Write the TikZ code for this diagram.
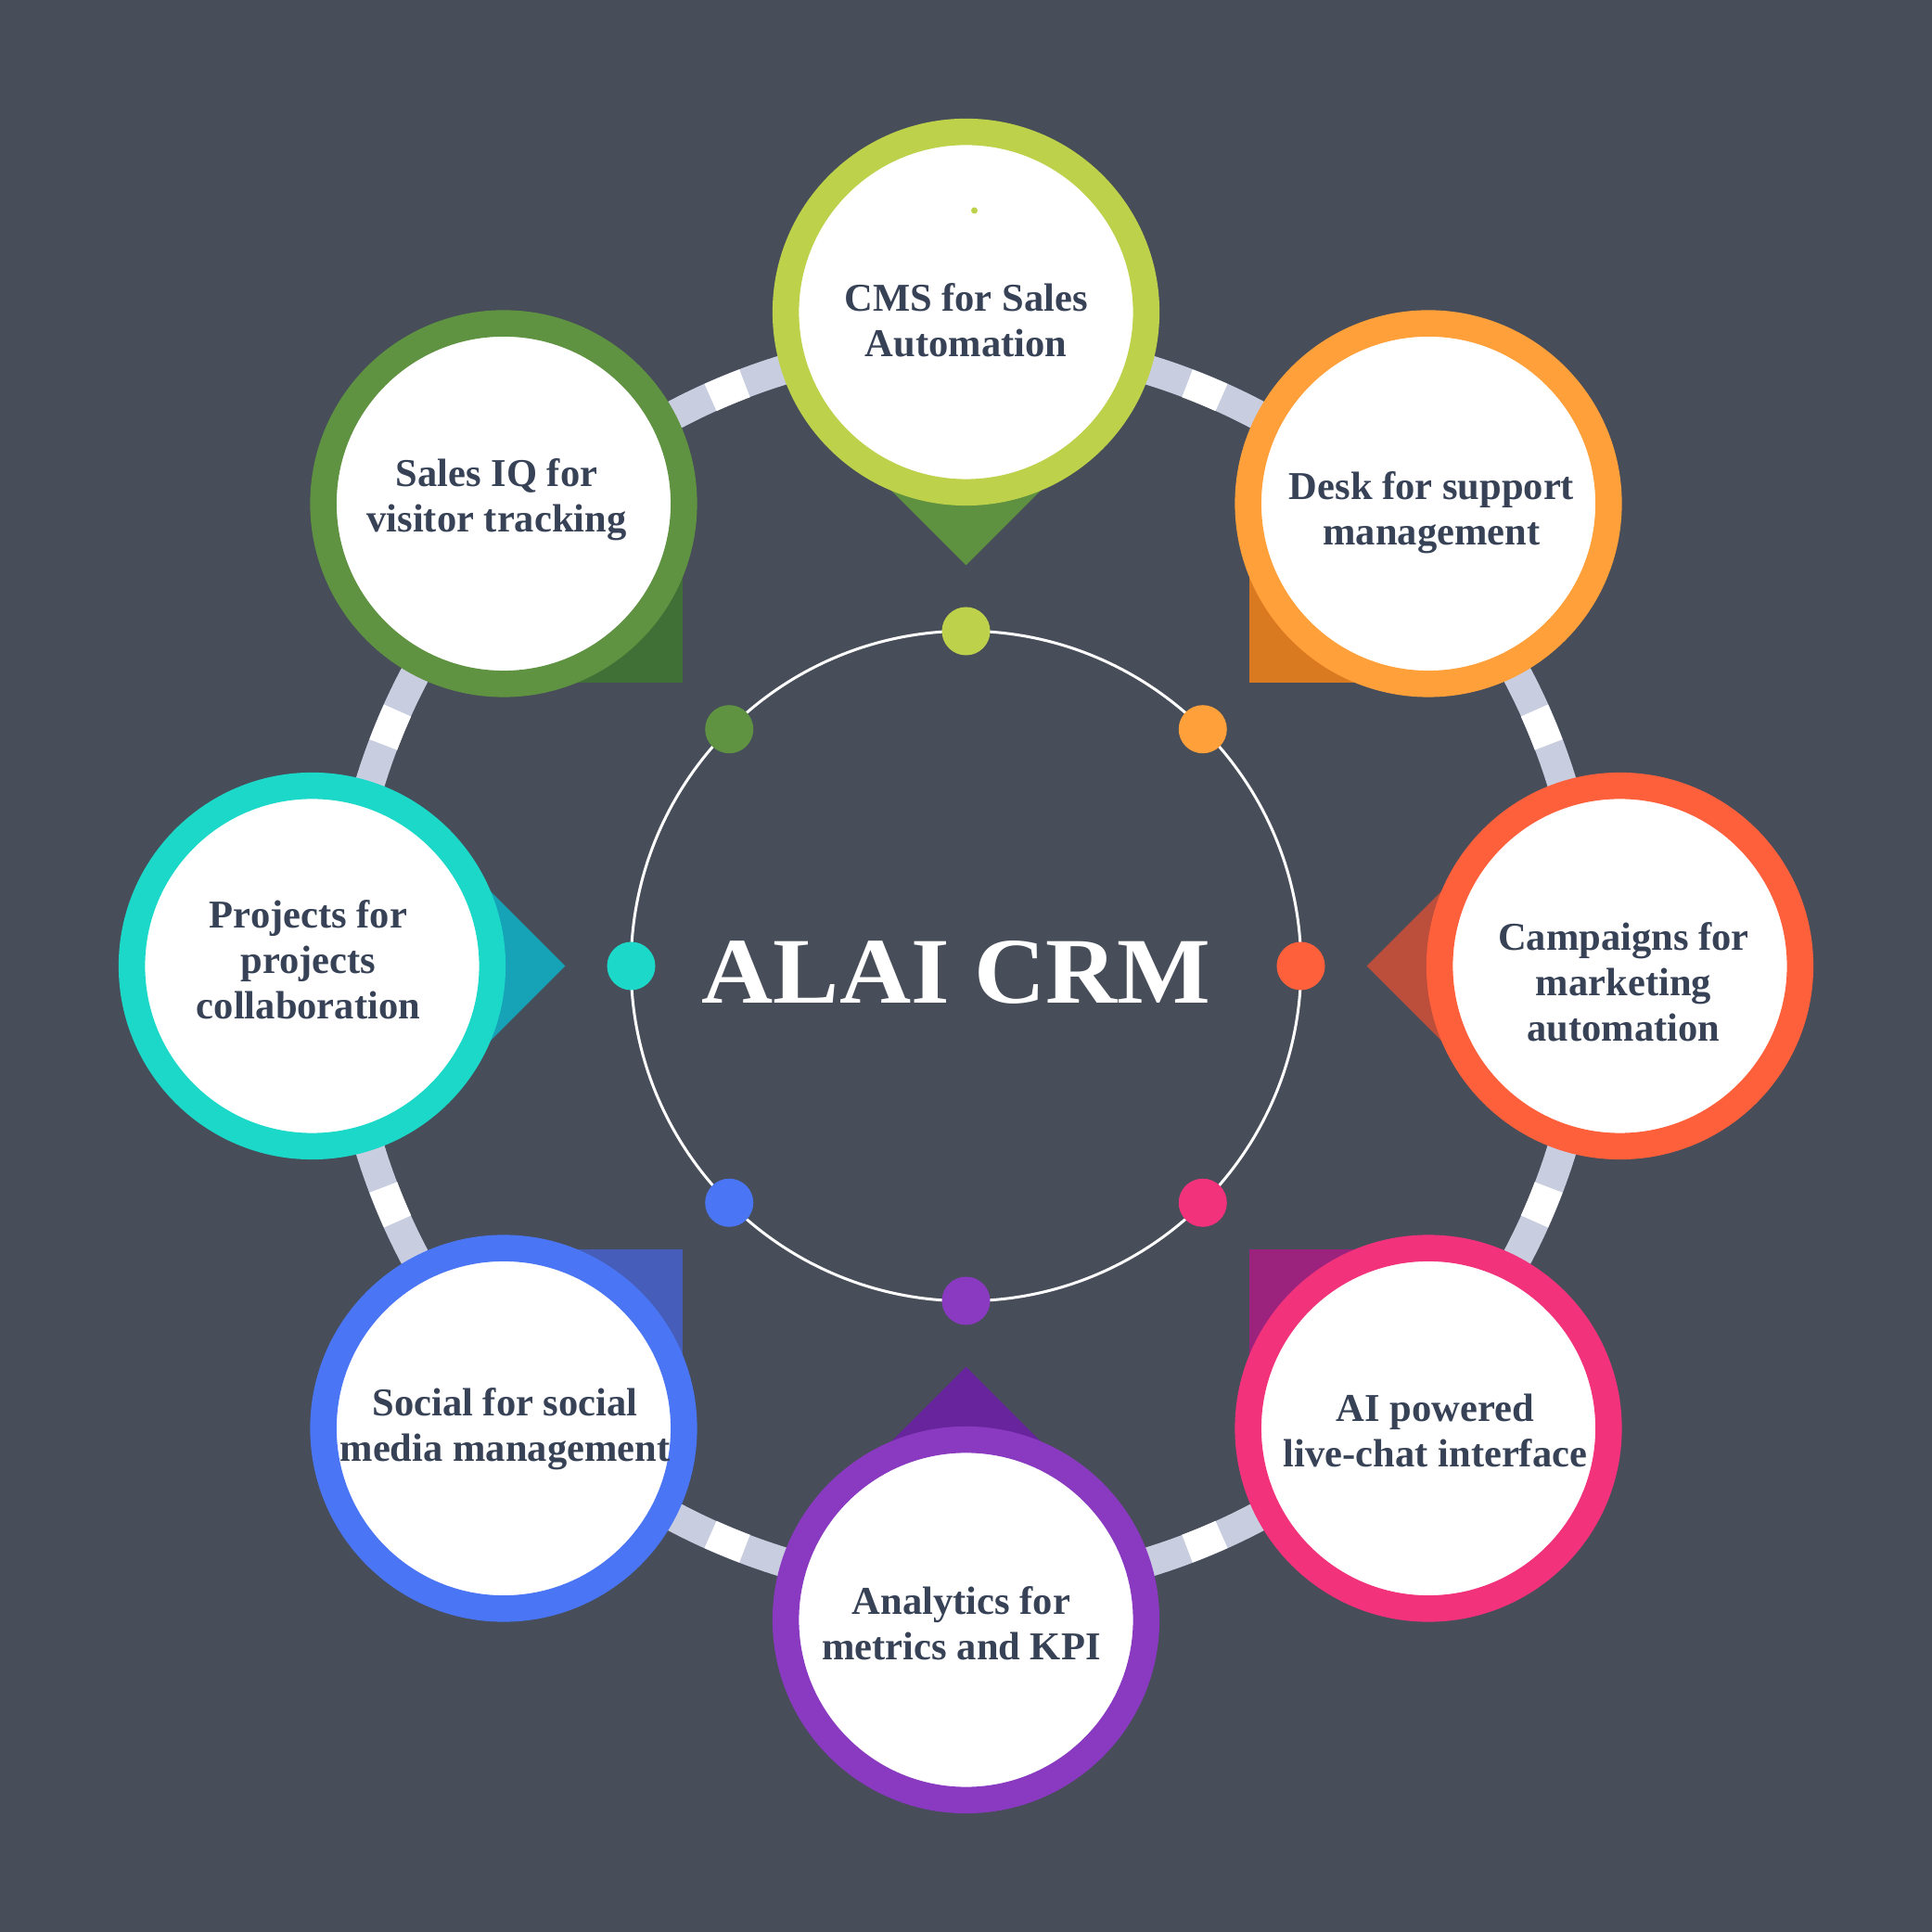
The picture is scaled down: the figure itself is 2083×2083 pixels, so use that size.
\documentclass[tikz,border=0pt]{standalone}
\usepackage{fontspec}
\setmainfont{Liberation Serif}
\usetikzlibrary{calc}
\definecolor{bg}{RGB}{71,77,89}
\definecolor{ringc}{RGB}{201,205,224}
\definecolor{txt}{RGB}{55,66,87}
\definecolor{cmsC}{RGB}{189,209,75}  \definecolor{cmsP}{RGB}{94,145,64}
\definecolor{iqC}{RGB}{95,147,65}    \definecolor{iqP}{RGB}{64,112,54}
\definecolor{deskC}{RGB}{255,160,58} \definecolor{deskP}{RGB}{217,122,32}
\definecolor{campC}{RGB}{255,96,60}  \definecolor{campP}{RGB}{188,78,60}
\definecolor{aiC}{RGB}{242,50,122}   \definecolor{aiP}{RGB}{155,35,125}
\definecolor{anC}{RGB}{138,58,192}   \definecolor{anP}{RGB}{104,36,156}
\definecolor{socC}{RGB}{74,118,245}  \definecolor{socP}{RGB}{70,93,185}
\definecolor{prC}{RGB}{27,216,200}   \definecolor{prP}{RGB}{22,163,184}
\begin{document}
\begin{tikzpicture}[x=0.01cm,y=0.01cm,
  bubble/.style={circle, draw=#1, line width=0.285cm, fill=white, minimum size=3.885cm, inner sep=0pt},
  lbl/.style={text=txt, font=\bfseries\fontsize{12.1}{13.9}\selectfont, align=center, inner sep=0pt},
  dotc/.style={circle, fill=#1, minimum size=0.52cm, inner sep=0pt}]
\fill[bg] (-1041.5,-1041.5) rectangle (1041.5,1041.5);
\useasboundingbox (-1041.5,-1041.5) rectangle (1041.5,1041.5);
% dashed ring
\draw[ringc, line width=0.32cm] (0,0) circle[radius=672];
\foreach \k in {0,...,47}
  \draw[white, line width=0.32cm] ({22.5+7.5*\k-1.7}:672) arc[start angle={22.5+7.5*\k-1.7}, delta angle=3.4, radius=672];
% inner hub circle
\node[circle, draw=white, line width=0.03cm, minimum size=7.22cm, inner sep=0pt] (hub) at (0,0) {};
\node[text=white, inner sep=0pt] (title) at (-10.5,-7) {\resizebox{5.48cm}{0.67cm}{\bfseries ALAI CRM}};
% dots on hub
\node[dotc=cmsC]  (d-cms)  at (90:361) {};
\node[dotc=deskC] (d-desk) at (45:361) {};
\node[dotc=campC] (d-camp) at (0:361) {};
\node[dotc=aiC]   (d-ai)   at (-45:361) {};
\node[dotc=anC]   (d-an)   at (-90:361) {};
\node[dotc=socC]  (d-soc)  at (-135:361) {};
\node[dotc=prC]   (d-pr)   at (180:361) {};
\node[dotc=iqC]   (d-iq)   at (135:361) {};
% bubbles with pointers
\foreach \a/\c/\p/\n in {90/cmsC/cmsP/cms, 45/deskC/deskP/desk, 0/campC/campP/camp, -45/aiC/aiP/ai, -90/anC/anP/an, -135/socC/socP/soc, 180/prC/prP/pr, 135/iqC/iqP/iq} {
  \coordinate (\n-c) at (\a:705);
  \fill[\p] (\n-c) -- ++({\a+135}:193) -- ++({\a+225}:193) -- ++({\a+315}:193) -- cycle;
  \node[bubble=\c] (\n) at (\n-c) {};
}
\node[circle, fill=cmsC, minimum size=0.07cm, inner sep=0pt] (speck) at (9,814.5) {};
% labels
\node[lbl] (t-cms)  at (0,696)     {CMS for Sales\\Automation};
\node[lbl] (t-iq)   at (-506,503)  {Sales IQ for\\visitor tracking};
\node[lbl] (t-desk) at (502,489)   {Desk for support\\management};
\node[lbl] (t-camp) at (709,-17)   {Campaigns for\\marketing\\automation};
\node[lbl] (t-ai)   at (506,-501)  {AI powered\\live-chat interface};
\node[lbl] (t-an)   at (-5,-709)   {Analytics for\\metrics and KPI};
\node[lbl] (t-soc)  at (-497,-499) {Social for social\\media management};
\node[lbl] (t-pr)   at (-709,7)    {Projects for\\projects\\collaboration};
\end{tikzpicture}
\end{document}
